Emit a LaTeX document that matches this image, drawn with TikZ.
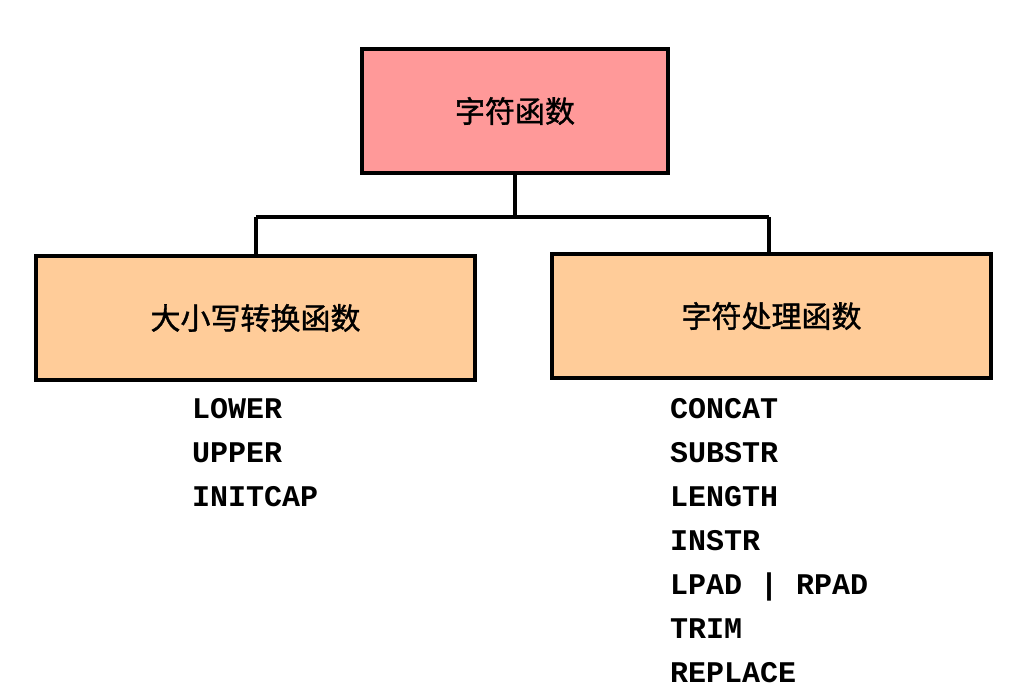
\documentclass[tikz,border=0pt]{standalone}
\usepackage{fontspec}
\newfontfamily\cjk{Noto Sans CJK SC}[FakeBold=1.2]
\setmonofont{Liberation Mono}
\definecolor{toppink}{HTML}{FF9999}
\definecolor{subpeach}{HTML}{FFCC99}
\begin{document}
\begin{tikzpicture}[x=1pt,y=-1pt,
  box/.style={draw=black,line width=4pt,inner sep=0pt,minimum height=124pt},
  cjklabel/.style={font=\cjk\fontsize{30}{34}\selectfont},
  item/.style={anchor=base west,inner sep=0pt,font=\ttfamily\bfseries\fontsize{30}{36}\selectfont},
  conn/.style={line width=4pt}]
\useasboundingbox (0,0) rectangle (1024,692);
\node[box,fill=toppink,minimum width=306pt,cjklabel] (top) at (515,111) {字符函数};
\node[box,fill=subpeach,minimum width=439pt,cjklabel] (left) at (255.5,318) {大小写转换函数};
\node[box,fill=subpeach,minimum width=439pt,cjklabel] (right) at (771.5,316) {字符处理函数};
\coordinate (j) at (515,217);
\coordinate (jl) at (256,217);
\coordinate (jr) at (769,217);
\draw[conn] (top.south) -- (j);
\draw[conn] (jl) -- (jr);
\draw[conn] (jl) -- (left.north -| jl);
\draw[conn] (jr) -- (right.north -| jr);
\node[item] (l1) at (192,418) {LOWER};
\node[item] (l2) at (192,462) {UPPER};
\node[item] (l3) at (192,506) {INITCAP};
\node[item] (r1) at (670,418) {CONCAT};
\node[item] (r2) at (670,462) {SUBSTR};
\node[item] (r3) at (670,506) {LENGTH};
\node[item] (r4) at (670,550) {INSTR};
\node[item] (r5) at (670,594) {LPAD | RPAD};
\node[item] (r6) at (670,638) {TRIM};
\node[item] (r7) at (670,682) {REPLACE};
\end{tikzpicture}
\end{document}
